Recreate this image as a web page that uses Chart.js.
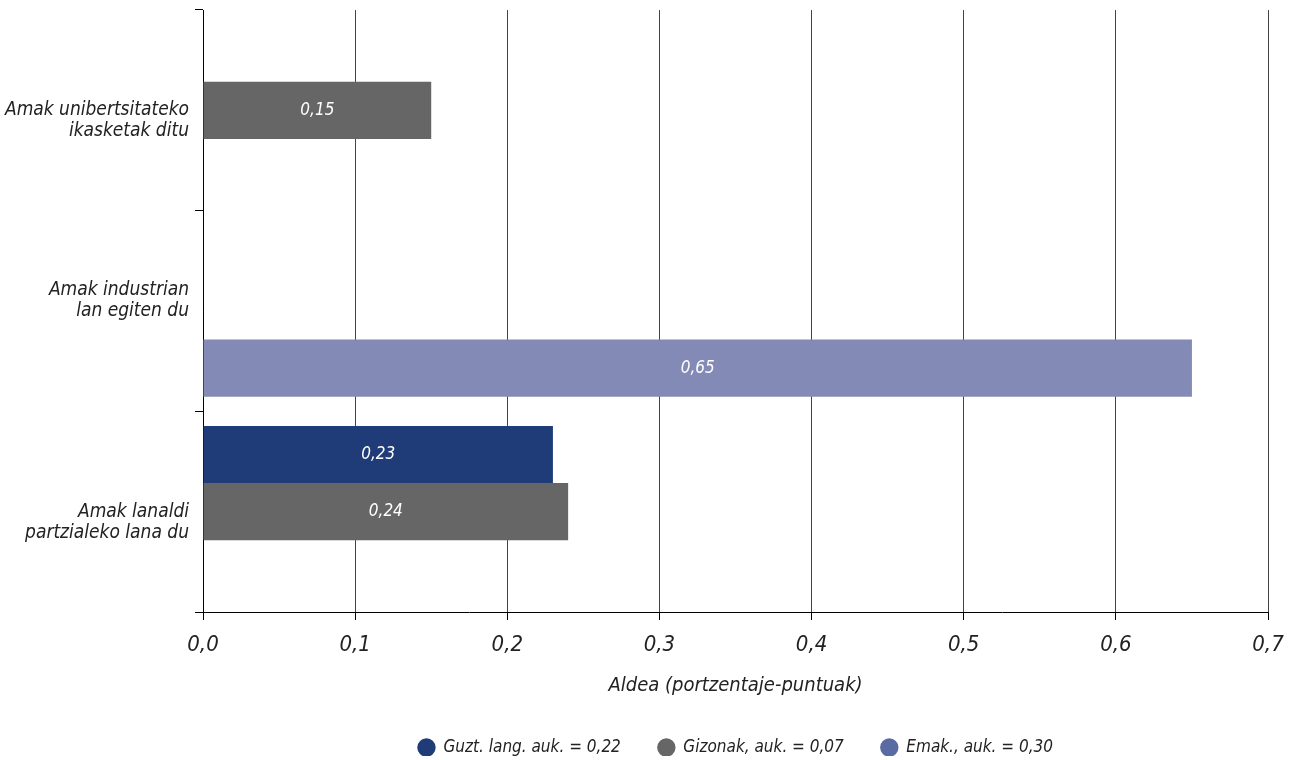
<!DOCTYPE html>
<html>
<head>
<meta charset="utf-8">
<script src="https://cdn.jsdelivr.net/npm/chart.js@4"></script>
<style>
  html, body { margin: 0; padding: 0; background: #fff; }
  #wrap { width: 1298px; height: 760px; }
</style>
</head>
<body>
<div id="wrap"><canvas id="aldeaChart" width="1298" height="760"></canvas></div>
<script>
// Datuak (lerro huts batek etiketa pixka bat mugitzen du, jatorrizkoan bezala)
const kategoriak = [
    ['', 'Amak unibertsitateko', 'ikasketak ditu'],
    ['Amak industrian', 'lan egiten du', ''],
    ['', 'Amak lanaldi', 'partzialeko lana du']
];
const guztiak = [null, null, 0.23];
const gizonak = [0.15, null, 0.24];
const emakumeak = [null, 0.65, null];
const serieIzenak = ['Guzt. lang. auk. = 0,22', 'Gizonak, auk. = 0,07', 'Emak., auk. = 0,30'];
const xTickak = [0, 0.1, 0.2, 0.3, 0.4, 0.5, 0.6, 0.7];

const FONT = "'Liberation Sans Narrow', 'DejaVu Sans Condensed', 'Roboto', sans-serif";
const barKoloreak = ['#1f3c78', '#666666', '#828ab5'];
const legendKoloreak = ['#1f3c78', '#666666', '#5a6aa3'];

const fmt = v => v.toFixed(2).replace('.', ',');

// Barren barruko balioak
const balioEtiketak = {
    id: 'balioEtiketak',
    afterDatasetsDraw(chart) {
        const ctx = chart.ctx;
        ctx.save();
        ctx.fillStyle = '#ffffff';
        ctx.font = 'italic 17px ' + FONT;
        ctx.textAlign = 'center';
        ctx.textBaseline = 'middle';
        chart.data.datasets.forEach((ds, i) => {
            const meta = chart.getDatasetMeta(i);
            meta.data.forEach((bar, j) => {
                const v = ds.data[j];
                if (v === null || v === undefined) return;
                ctx.fillText(fmt(v), (bar.x + bar.base) / 2, bar.y);
            });
        });
        ctx.restore();
    }
};

new Chart(document.getElementById('aldeaChart').getContext('2d'), {
    type: 'bar',
    data: {
        labels: kategoriak,
        datasets: [
            { label: serieIzenak[0], data: guztiak, backgroundColor: barKoloreak[0] },
            { label: serieIzenak[1], data: gizonak, backgroundColor: barKoloreak[1] },
            { label: serieIzenak[2], data: emakumeak, backgroundColor: barKoloreak[2] }
        ]
    },
    options: {
        indexAxis: 'y',
        responsive: false,
        animation: false,
        layout: { padding: { top: 10, right: 30, left: 0, bottom: 4 } },
        datasets: {
            bar: { barPercentage: 1, categoryPercentage: 0.855, borderWidth: 0 }
        },
        scales: {
            x: {
                min: 0,
                max: 0.7,
                afterBuildTicks: scale => { scale.ticks = xTickak.map(v => ({ value: v })); },
                afterFit: scale => { scale.height = 90; },
                border: { display: true, color: '#000', width: 1 },
                grid: { color: '#444', lineWidth: 1, tickLength: 8, tickColor: '#000' },
                ticks: {
                    color: '#222',
                    padding: 12,
                    font: { family: FONT, size: 22, style: 'italic' },
                    callback: v => v.toFixed(1).replace('.', ',')
                },
                title: {
                    display: true,
                    text: 'Aldea (portzentaje-puntuak)',
                    color: '#222',
                    padding: { top: 0 },
                    font: { family: FONT, size: 20, style: 'italic' }
                }
            },
            y: {
                afterFit: scale => {
                    scale.width = 203;
                    scale.paddingTop = 0;
                    scale.paddingBottom = 0;
                },
                border: { display: true, color: '#000', width: 1 },
                grid: { offset: true, drawOnChartArea: false, tickLength: 8, tickColor: '#000' },
                ticks: {
                    color: '#222',
                    padding: 6,
                    font: { family: FONT, size: 19, style: 'italic', lineHeight: 1.1 }
                }
            }
        },
        plugins: {
            legend: {
                position: 'bottom',
                fullSize: false,
                maxHeight: 54,
                labels: {
                    usePointStyle: true,
                    pointStyle: 'circle',
                    boxHeight: 13,
                    padding: 37,
                    color: '#222',
                    font: { family: FONT, size: 17, style: 'italic' },
                    generateLabels: chart => chart.data.datasets.map((ds, i) => ({
                        text: ds.label,
                        fillStyle: legendKoloreak[i],
                        strokeStyle: legendKoloreak[i],
                        lineWidth: 0,
                        pointStyle: 'circle',
                        fontColor: '#222',
                        datasetIndex: i,
                        hidden: false
                    }))
                }
            },
            tooltip: { enabled: false }
        }
    },
    plugins: [balioEtiketak]
});
</script>
</body>
</html>
